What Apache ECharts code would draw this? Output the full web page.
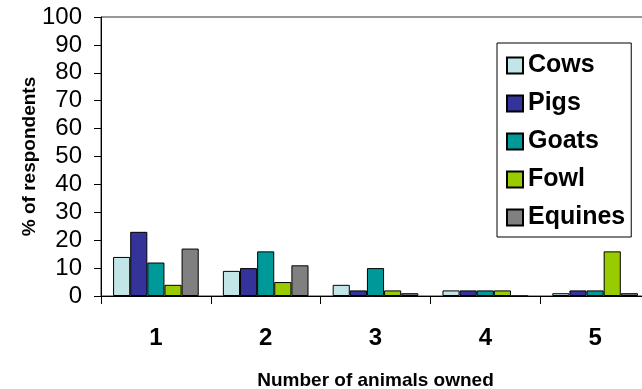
<!DOCTYPE html>
<html>
<head>
<meta charset="utf-8">
<script src="https://cdn.jsdelivr.net/npm/echarts@6/dist/echarts.min.js"></script>
<style>
  html, body { margin: 0; padding: 0; background: #fff; }
  #chart { width: 642px; height: 389px; }
</style>
</head>
<body>
<div id="chart"></div>
<script>
// Number of animals owned (categories)
const categories = ['1', '2', '3', '4', '5'];

// % of respondents per animal type
const cows    = [14, 9, 4, 2, 1];
const pigs    = [23, 10, 2, 2, 2];
const goats   = [12, 16, 10, 2, 2];
const fowl    = [4, 5, 2, 2, 16];
const equines = [17, 11, 1, 0, 1];

const seriesNames  = ['Cows', 'Pigs', 'Goats', 'Fowl', 'Equines'];
const seriesValues = [cows, pigs, goats, fowl, equines];
const seriesColors = ['#C2E5E8', '#333399', '#009999', '#99CC00', '#808080'];

const FONT = '"Liberation Sans", Arial, sans-serif';

const chart = echarts.init(document.getElementById('chart'), null, { renderer: 'canvas' });

chart.setOption({
  animation: false,
  backgroundColor: '#fff',
  grid: {
    left: 101, top: 17, bottom: 93, right: -8,
    outerBoundsMode: 'none',
    containLabel: false,
    show: true, borderColor: '#333', borderWidth: 1,
    backgroundColor: 'transparent'
  },
  legend: {
    orient: 'vertical',
    left: 497, top: 43,
    padding: [10, 6, 7, 9],
    itemGap: 13,
    itemWidth: 16, itemHeight: 16,
    borderColor: '#000', borderWidth: 1,
    backgroundColor: '#fff',
    icon: 'rect',
    textStyle: { fontFamily: FONT, fontWeight: 'bold', fontSize: 25, color: '#000', lineHeight: 25 },
    data: seriesNames
  },
  xAxis: {
    type: 'category',
    data: categories,
    name: 'Number of animals owned',
    nameLocation: 'middle',
    nameGap: 75,
    nameMoveOverlap: false,
    nameTextStyle: { fontFamily: FONT, fontWeight: 'bold', fontSize: 19, color: '#000' },
    axisLine: { lineStyle: { color: '#000', width: 1 } },
    axisTick: { show: true, length: 8, lineStyle: { color: '#000' } },
    axisLabel: { margin: 30, fontFamily: FONT, fontWeight: 'bold', fontSize: 24, color: '#000' },
    splitLine: { show: false }
  },
  yAxis: {
    type: 'value',
    min: 0, max: 100, interval: 10,
    name: '% of respondents',
    nameLocation: 'middle',
    nameGap: 62,
    nameMoveOverlap: false,
    nameTextStyle: { fontFamily: FONT, fontWeight: 'bold', fontSize: 19, color: '#000' },
    axisLine: { show: true, lineStyle: { color: '#000', width: 1 } },
    axisTick: { show: true, length: 7, lineStyle: { color: '#000' } },
    axisLabel: { margin: 19, fontFamily: FONT, fontSize: 24, color: '#000' },
    splitLine: { show: false }
  },
  series: seriesNames.map((name, i) => ({
    name: name,
    type: 'bar',
    data: seriesValues[i],
    barGap: '0%',
    barCategoryGap: '22%',
    itemStyle: { color: seriesColors[i], borderColor: '#000', borderWidth: 1 }
  }))
});
</script>
</body>
</html>
